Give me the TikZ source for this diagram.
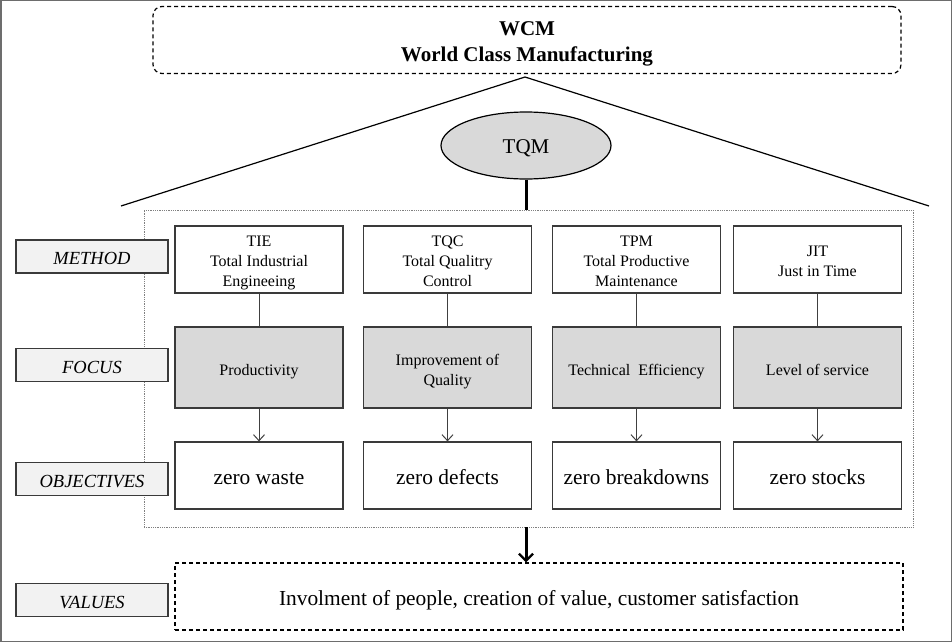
\documentclass[tikz,border=0pt]{standalone}
\usepackage{fontspec}
\setmainfont{Liberation Serif}
\usetikzlibrary{arrows.meta,shapes.geometric}
\definecolor{boxc}{HTML}{3A3A3A}
\definecolor{connc}{HTML}{404040}
\definecolor{focusc}{HTML}{D9D9D9}
\definecolor{labelc}{HTML}{F2F2F2}
\definecolor{framec}{HTML}{6D6D6D}
\newcommand\mytopstrut{\rule{0pt}{\dimexpr0.7\baselineskip+8pt\relax}}
\newcommand\mytopstrutb{\rule{0pt}{\dimexpr0.7\baselineskip+6pt\relax}}
\begin{document}
\begin{tikzpicture}[x=1pt,y=-1pt,
  strutted/.style={execute at begin node=\mytopstrut, execute at end node=\strut},
  box/.style={draw=boxc, line width=1.2pt, inner sep=0pt, align=center, strutted,
    minimum width=168pt, font=\fontsize{16}{20}\selectfont},
  methodbox/.style={box, minimum height=67pt},
  focusbox/.style={box, minimum height=81pt, fill=focusc},
  objbox/.style={box, minimum height=67pt, font=\fontsize{21.4}{25}\selectfont},
  labelbox/.style={draw=boxc, fill=labelc, line width=1.2pt, inner sep=0pt, strutted,
    minimum width=152pt, minimum height=33pt, font=\fontsize{18.5}{22}\selectfont\itshape},
  conn/.style={draw=connc, line width=1pt},
  connarrow/.style={conn, -{Straight Barb[length=6pt,width=11pt,line width=1pt]}},
  thickline/.style={draw=black, line width=3pt},
  thickarrow/.style={draw=black, line width=3pt, -{Straight Barb[length=7pt,width=14pt,line width=2.4pt]}},
  dashbox/.style={draw=black, line width=1.2pt, dash pattern=on 4pt off 3pt, inner sep=0pt, align=center, strutted},
]
\useasboundingbox (0,0) rectangle (952,642);
\draw[framec, line width=1.5pt] (0.75,0.75) rectangle (951.25,641.25);

% title
\node[dashbox, rounded corners=9pt, minimum width=748pt, minimum height=67pt,
  font=\fontsize{21}{26}\selectfont\bfseries] (wcm) at (527,40)
  {\rule{0pt}{\dimexpr0.7\baselineskip+6.5pt\relax}WCM\\World Class Manufacturing\strut};

% roof
\coordinate (roofL) at (121,206);
\coordinate (apex) at (525,77);
\coordinate (roofR) at (929,206);
\draw[black, line width=1.2pt] (roofL) -- (apex) -- (roofR);

% dotted frame
\node[draw=gray, densely dotted, line width=0.8pt, minimum width=769pt, minimum height=317pt, inner sep=0pt]
  (frame) at (528.5,368.5) {};

% TQM
\node[ellipse, draw=black, fill=focusc, line width=1.2pt, minimum width=170pt, minimum height=67pt,
  inner sep=0pt, execute at begin node={\rule{0pt}{\dimexpr0.7\baselineskip+5pt\relax}}, execute at end node=\strut,
  font=\fontsize{21}{25}\selectfont] (tqm) at (526,145.5) {TQM};
\draw[thickline] (tqm.south) -- (tqm.south |- frame.north);

% labels
\node[labelbox] (lmethod) at (92,256.5) {METHOD};
\node[labelbox] (lfocus) at (92,365) {FOCUS};
\node[labelbox] (lobj) at (92,479) {OBJECTIVES};
\node[labelbox] (lvalues) at (92,600) {VALUES};

% columns
\node[methodbox] (m1) at (259,259.5) {\mytopstrutb TIE\\Total Industrial\\Engineeing\strut};
\node[methodbox] (m2) at (447.5,259.5) {\mytopstrutb TQC\\Total Qualitry\\Control\strut};
\node[methodbox] (m3) at (636.5,259.5) {\mytopstrutb TPM\\Total Productive\\Maintenance\strut};
\node[methodbox] (m4) at (817.5,259.5) {\mytopstrutb JIT\\Just in Time\strut};

\node[focusbox] (f1) at (259,367.5) {Productivity};
\node[focusbox] (f2) at (447.5,367.5) {\mytopstrut Improvement of\\Quality\strut};
\node[focusbox] (f3) at (636.5,367.5) {Technical\ \ Efficiency};
\node[focusbox] (f4) at (817.5,367.5) {Level of service};

\node[objbox] (o1) at (259,475.5) {zero waste};
\node[objbox] (o2) at (447.5,475.5) {zero defects};
\node[objbox] (o3) at (636.5,475.5) {zero breakdowns};
\node[objbox] (o4) at (817.5,475.5) {zero stocks};

\foreach \i in {1,2,3,4}{
  \draw[conn] (m\i) -- (f\i);
  \draw[connarrow] (f\i) -- (o\i);
}

% values
\node[dashbox, minimum width=728pt, minimum height=67pt, font=\fontsize{21.4}{25}\selectfont]
  (values) at (539,596.5) {Involment of people, creation of value, customer satisfaction};
\draw[thickarrow] (tqm.south |- frame.south) -- (tqm.south |- values.north);
\end{tikzpicture}
\end{document}
